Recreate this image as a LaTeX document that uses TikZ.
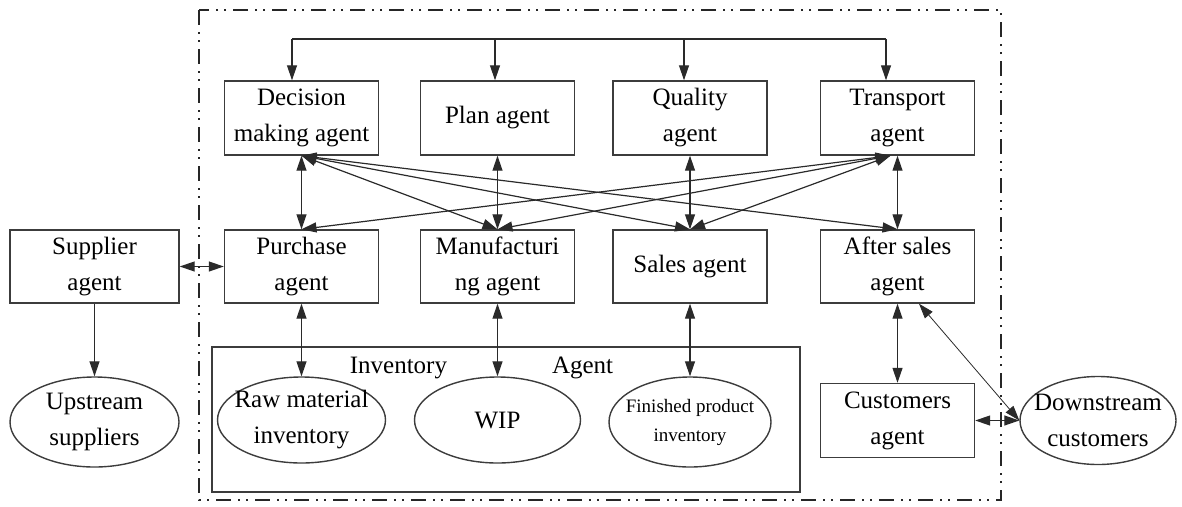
\documentclass[tikz,border=0pt]{standalone}
\usepackage{fontspec}
\setmainfont{Liberation Serif}
\usetikzlibrary{arrows.meta,shapes.geometric,calc}
\definecolor{boxgray}{HTML}{3C3C3C}
\definecolor{linkgray}{HTML}{2A2A2A}
\newcommand\agentfont{\fontsize{25}{36}\selectfont}
\newcommand\smallagentfont{\fontsize{19}{29}\selectfont}

\begin{document}
\begin{tikzpicture}[x=1pt,y=-1pt,
  >={Triangle[length=15pt,width=10pt]},
  agent/.style={draw=boxgray, line width=1.4pt, rectangle, minimum width=154pt,
    minimum height=74pt, inner sep=0pt, align=center, font=\agentfont},
  store/.style={draw=boxgray, line width=1.4pt, ellipse, inner sep=0pt},
  storetext/.style={align=center, font=\agentfont, inner sep=0pt},
  link/.style={draw=linkgray, line width=1.2pt},
  thinlink/.style={draw=linkgray, line width=0.8pt},
  frame/.style={line width=2pt, draw=black!85,
    dash pattern=on 15pt off 7pt on 2pt off 6pt on 2pt off 7pt}]

\useasboundingbox (0,0) rectangle (1182,506);

% enterprise boundary
\draw[frame] (199,10) rectangle (1001,500);

% management layer
\node[agent] (dec) at (301.5,118) {Decision\\making agent};
\node[agent] (pln) at (497.5,118) {Plan agent};
\node[agent] (qua) at (690,118) {Quality\\agent};
\node[agent] (tra) at (897.5,118) {Transport\\agent};

% operation layer
\node[agent, minimum width=169pt, minimum height=73pt] (sup) at (94.5,266.5) {Supplier\\agent};
\node[agent, minimum height=73pt] (pur) at (301.5,266.5) {Purchase\\agent};
\node[agent, minimum height=73pt] (man) at (497.5,266.5) {Manufacturi\\ng agent};
\node[agent, minimum height=73pt] (sal) at (690,266.5) {Sales agent};
\node[agent, minimum height=73pt] (aft) at (897.5,266.5) {After sales\\agent};
\node[agent] (cus) at (897.5,420.5) {Customers\\agent};

% inventory agent and its stores
\node[draw=boxgray, line width=1.4pt, rectangle, minimum width=588pt,
  minimum height=145pt, inner sep=0pt] (inv) at (506,419.5) {};
\node[font=\agentfont, inner sep=0pt] (invlabel) at (481.5,368)
  {Inventory\hspace{105pt}Agent};

\node[store, minimum width=168pt, minimum height=86pt] (raw) at (301.5,420) {};
\node[storetext] (rawtext) at (raw.center) {Raw material\\inventory};
\node[store, minimum width=166pt, minimum height=86pt] (wip) at (497.5,420) {};
\node[storetext] (wiptext) at (wip.center) {WIP};
\node[store, minimum width=162pt, minimum height=90pt] (fin) at (690,422) {};
\node[storetext, font=\smallagentfont] (fintext) at (fin.center)
  {Finished product\\inventory};

% outside partners
\node[store, minimum width=169pt, minimum height=90pt] (ups) at (94.5,422) {};
\node[storetext] (upstext) at (ups.center) {Upstream\\suppliers};
\node[store, minimum width=156pt, minimum height=88pt] (dwn) at (1098,420.5) {};
\node[storetext] (dwntext) at (dwn.center) {Downstream\\customers};

% top distribution bus
\coordinate (bus) at (0,39);
\coordinate (dtop) at ([xshift=-9.5pt]dec.north);
\coordinate (ptop) at ([xshift=-2.5pt]pln.north);
\coordinate (qtop) at ([xshift=-6pt]qua.north);
\coordinate (ttop) at ([xshift=-11.5pt]tra.north);
\draw[link] (dtop |- bus) -- (ttop |- bus);
\draw[link,->] (dtop |- bus) -- (dtop);
\draw[link,->] (ptop |- bus) -- (ptop);
\draw[link,->] (qtop |- bus) -- (qtop);
\draw[link,->] (ttop |- bus) -- (ttop);

% vertical links between layers
\draw[link,<->] (dec.south) -- (pur.north);
\draw[link,<->] (pln.south) -- (man.north);
\draw[link,<->] (qua.south) -- (sal.north);
\draw[link,<->] (tra.south) -- (aft.north);

% crossing links
\draw[link,<->] (dec.south) -- (man.north);
\draw[link,<->] (dec.south) -- (sal.north);
\draw[link,<->] (dec.south) -- (aft.north);
\draw[link,<->] ([xshift=-7pt]tra.south) -- (pur.north);
\draw[link,<->] ([xshift=-7pt]tra.south) -- (man.north);
\draw[link,<->] ([xshift=-7pt]tra.south) -- (sal.north);

% links to stores and partners
\draw[link,<->] (sup.east) -- (pur.west);
\draw[link,->] (sup.south) -- (ups.north);
\draw[link,<->] (pur.south) -- (raw.north);
\draw[link,<->] (man.south) -- (wip.north);
\draw[link,<->] (sal.south) -- (fin.north);
\draw[link,<->] (aft.south) -- (cus.north);
\draw[link,<->] (cus.east) -- (dwn.west);
\draw[thinlink,<->] (aft.-60) -- (dwn.west);
\end{tikzpicture}
\end{document}
